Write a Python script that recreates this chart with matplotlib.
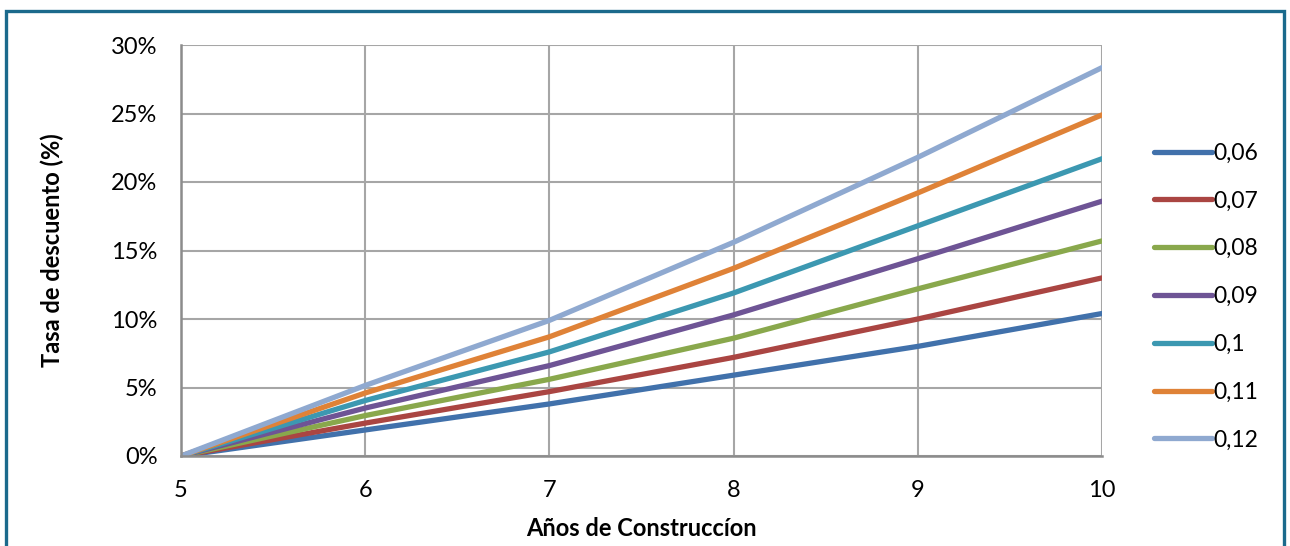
import matplotlib.pyplot as plt
from matplotlib.patches import Rectangle
from matplotlib.ticker import PercentFormatter

# años de construcción y tasa de descuento (%) para cada tasa de interés
anos = [5, 6, 7, 8, 9, 10]
tasas = ['0,06', '0,07', '0,08', '0,09', '0,1', '0,11', '0,12']
r006 = [0.0, 1.9, 3.8, 5.9, 8.0, 10.4]
r007 = [0.0, 2.4, 4.7, 7.2, 10.0, 13.0]
r008 = [0.0, 2.95, 5.6, 8.6, 12.2, 15.7]
r009 = [0.0, 3.5, 6.6, 10.3, 14.4, 18.6]
r010 = [0.0, 4.05, 7.6, 11.9, 16.8, 21.7]
r011 = [0.0, 4.6, 8.7, 13.7, 19.2, 24.9]
r012 = [0.0, 5.15, 9.9, 15.6, 21.8, 28.35]
series = [r006, r007, r008, r009, r010, r011, r012]

colores = ['#4171ab', '#aa4542', '#89a84c', '#6e5495', '#3c98b1', '#df8237', '#8fa9d0']

plt.rcParams['font.family'] = ['Lato', 'DejaVu Sans']

fig = plt.figure(figsize=(12.9, 5.46), dpi=100)
ax = fig.add_axes([181/1290, 1 - 456/546, 921/1290, 411/546])

for vals, lab, c in zip(series, tasas, colores):
    ax.plot(anos, vals, color=c, lw=3.8, label=lab, solid_capstyle='round',
            solid_joinstyle='round')

ax.set_xlim(5, 10)
ax.set_ylim(0, 30)
ax.set_xticks(anos)
ax.set_yticks(range(0, 31, 5))
ax.yaxis.set_major_formatter(PercentFormatter(decimals=0))
ax.grid(True, color='#a6a6a6', lw=1.5)
ax.set_axisbelow(True)
for s in ['top', 'right']:
    ax.spines[s].set_visible(False)
for s in ['left', 'bottom']:
    ax.spines[s].set_color('#8c8c8c')
    ax.spines[s].set_linewidth(1.8)
ax.tick_params(length=0, labelsize=17, colors='black')
ax.tick_params(axis='y', pad=17)
ax.tick_params(axis='x', pad=17)

ax.set_xlabel('Años de Construccíon', fontsize=17, fontweight='bold')
ax.set_ylabel('Tasa de descuento (%)', fontsize=17, fontweight='bold')
ax.xaxis.set_label_coords(0.5, -0.148)
ax.yaxis.set_label_coords(-0.127, 0.5)

fig.legend(loc='center left', bbox_to_anchor=(1143/1290, 1 - 296.5/546),
           frameon=False, fontsize=16.5, handlelength=2.5, handletextpad=0.08,
           labelspacing=1.17, borderpad=0)

# marco exterior del gráfico
fig.patches.append(Rectangle((6/1290, -0.05), 1278/1290, 1.05 - 11/546,
                             transform=fig.transFigure, fill=False,
                             edgecolor='#1b6a8c', lw=2.4))

fig.savefig('out.png', dpi=100)
